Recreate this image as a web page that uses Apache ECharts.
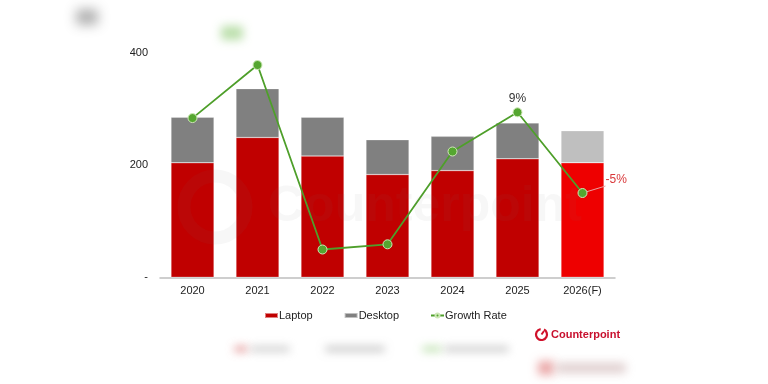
<!DOCTYPE html>
<html><head><meta charset="utf-8">
<script src="https://cdn.jsdelivr.net/npm/echarts@6/dist/echarts.min.js"></script>
<style>html,body{margin:0;padding:0;background:#fff}#c{width:768px;height:384px}</style>
</head><body><div id="c"></div>
<script>
var categories = ['2020','2021','2022','2023','2024','2025','2026(F)'];
var laptop = [204, 249, 216, 183, 190, 211, 204];
var desktop = [81, 87, 69, 62, 61, 64, 57];
var growth = [8.0, 17.2, -14.8, -13.9, 2.2, 9, -5];
var yTicks = [0, 200, 400];

var chart = echarts.init(document.getElementById('c'));
var font = '"Liberation Sans", Arial, sans-serif';

var laptopData = laptop.map(function(v, i){
  return i === 6 ? {value: v, itemStyle: {color: '#EE0000'}} : v;
});
var desktopData = desktop.map(function(v, i){
  return i === 6 ? {value: v, itemStyle: {color: '#BFBFBF'}} : v;
});
var growthData = growth.map(function(v, i){
  if (i === 5) return {value: v, label: {show: true, position: 'top', distance: 3, color: '#333', fontSize: 12}};
  if (i === 6) return {value: v, label: {show: true, position: 'right', distance: 8, offset: [10, -13], color: '#D9383A', fontSize: 12},
    labelLine: {show: true, lineStyle: {color: '#E8A0A0', width: 1}}};
  return v;
});

// soft blurred patch: shape is drawn off-canvas, only its blurred shadow shows
function blob(x, y, w, h, color, blur) {
  return {type: 'rect', shape: {x: x - 2000, y: y, width: w, height: h, r: 3}, silent: true, z: 0,
    style: {fill: '#000', shadowColor: color, shadowBlur: blur, shadowOffsetX: 2000}};
}

chart.setOption({
  animation: false,
  textStyle: {fontFamily: font},
  grid: {left: 160, right: 153, top: 52.7, bottom: 106.7, containLabel: false},
  legend: {
    bottom: 58, left: 259,
    itemWidth: 13, itemHeight: 5, itemGap: 31,
    textStyle: {fontSize: 11, color: '#222', fontFamily: font, padding: [0,0,0,-4]},
    data: [
      {name: 'Laptop', icon: 'rect'},
      {name: 'Desktop', icon: 'rect'},
      {name: 'Growth Rate'}
    ]
  },
  xAxis: {
    type: 'category', data: categories,
    axisLine: {lineStyle: {color: '#BFBFBF', width: 1.5}},
    axisTick: {show: false},
    axisLabel: {color: '#222', fontSize: 11, margin: 8, fontFamily: font}
  },
  yAxis: [{
    type: 'value', min: 0, max: 400, interval: 200,
    splitLine: {show: false}, axisLine: {show: false}, axisTick: {show: false},
    axisLabel: {color: '#222', fontSize: 11, margin: 12, fontFamily: font,
      formatter: function(v){ return v === 0 ? '-' : String(v); }}
  }, {
    type: 'value', min: -19.62, max: 19.34, show: false, splitLine: {show: false}
  }],
  series: [{
    name: 'Laptop', type: 'bar', stack: 'pc', data: laptopData, barWidth: 43,
    itemStyle: {color: '#C00000', borderColor: 'rgba(255,255,255,0.5)', borderWidth: 0.5}
  }, {
    name: 'Desktop', type: 'bar', stack: 'pc', data: desktopData, barWidth: 43,
    itemStyle: {color: '#808080', borderColor: 'rgba(255,255,255,0.5)', borderWidth: 0.5}
  }, {
    name: 'Growth Rate', type: 'line', yAxisIndex: 1, data: growthData,
    symbol: 'circle', symbolSize: 9,
    lineStyle: {color: '#4E9F2A', width: 1.8},
    itemStyle: {color: '#55A630', borderColor: '#CFE8B8', borderWidth: 1},
    label: {show: false, fontFamily: font,
      formatter: function(p){ return Math.round(p.value) + '%'; }},
    z: 5
  }],
  graphic: [
    {type: 'circle', shape: {cx: 215, cy: 207, r: 31}, style: {fill: 'none', stroke: 'rgba(120,120,120,0.06)', lineWidth: 13}, z: 10, silent: true},
    {type: 'text', x: 268, y: 207, style: {text: 'Counterpoint', font: 'bold 50px ' + font, fill: 'rgba(120,120,120,0.06)', verticalAlign: 'middle'}, z: 10, silent: true},
    {type: 'arc', shape: {cx: 541.5, cy: 334.5, r: 5.5, startAngle: -Math.PI*0.35, endAngle: Math.PI*1.45}, style: {stroke: '#D0102A', lineWidth: 2.2, fill: 'none'}, z: 10},
    {type: 'line', shape: {x1: 541.5, y1: 334.5, x2: 544, y2: 331}, style: {stroke: '#D0102A', lineWidth: 2}, z: 10},
    {type: 'text', x: 551, y: 334.5, style: {text: 'Counterpoint', font: 'bold 11px ' + font, fill: '#C8102E', verticalAlign: 'middle'}, z: 10},
    blob(76, 9, 22, 16, 'rgba(170,170,170,0.9)', 12),
    blob(221, 26, 22, 14, 'rgba(170,215,150,0.8)', 10),
    blob(234, 346, 14, 6, 'rgba(220,120,120,0.7)', 8),
    blob(250, 346, 40, 6, 'rgba(190,190,190,0.7)', 8),
    blob(325, 346, 60, 6, 'rgba(180,180,180,0.7)', 8),
    blob(422, 346, 20, 6, 'rgba(170,215,150,0.7)', 8),
    blob(444, 346, 65, 6, 'rgba(185,185,185,0.7)', 8),
    blob(538, 361, 16, 14, 'rgba(225,130,130,0.7)', 10),
    blob(556, 363, 70, 10, 'rgba(210,185,185,0.7)', 10)
  ]
});
</script></body></html>
